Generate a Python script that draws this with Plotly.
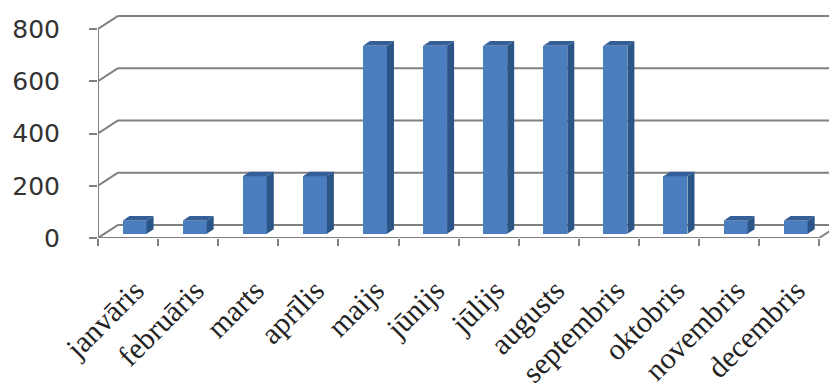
import plotly.graph_objects as go

# Monthly values
months = ["janvāris", "februāris", "marts", "aprīlis", "maijs", "jūnijs",
          "jūlijs", "augusts", "septembris", "oktobris", "novembris", "decembris"]
values = [50, 50, 220, 220, 720, 720, 720, 720, 720, 220, 50, 50]
y_ticks = [0, 200, 400, 600, 800]

# Oblique projection of the depth axis (category units / value units)
DX, DY = 0.333, 50.0
BAR_FRONT, BAR_DEPTH = 0.325, 0.35
BAR_W = 0.4

GRID = "#808080"
FRONT = "#4a7ebf"
SIDE = "#2c5587"
TOP = "#345f98"

n = len(months)
x_lo, x_hi = -0.5, n - 0.5
x_max = 11.663
y_max = 872.7

shapes = []
# back-wall gridlines and side-wall diagonals
for v in y_ticks:
    shapes.append(dict(type="line", xref="x", yref="y", layer="below",
                       x0=x_lo + DX, y0=v + DY, x1=x_max, y1=v + DY,
                       line=dict(color=GRID, width=2)))
    shapes.append(dict(type="line", xref="x", yref="y", layer="below",
                       x0=x_lo, y0=v, x1=x_lo + DX, y1=v + DY,
                       line=dict(color=GRID, width=2)))
# floor front edge, right floor diagonal, front value axis
shapes.append(dict(type="line", xref="x", yref="y", layer="below",
                   x0=x_lo, y0=0, x1=x_hi, y1=0, line=dict(color=GRID, width=2)))
shapes.append(dict(type="line", xref="x", yref="y", layer="below",
                   x0=x_hi, y0=0, x1=x_hi + DX, y1=DY, line=dict(color=GRID, width=2)))
shapes.append(dict(type="line", xref="x", yref="y", layer="below",
                   x0=x_lo, y0=0, x1=x_lo, y1=y_ticks[-1], line=dict(color=GRID, width=2)))

# side and top faces of each column
base = BAR_FRONT * DY
ddx, ddy = BAR_DEPTH * DX, BAR_DEPTH * DY
xc = [i + BAR_FRONT * DX for i in range(n)]
for c, v in zip(xc, values):
    xl, xr = c - BAR_W / 2, c + BAR_W / 2
    top = base + v
    shapes.append(dict(type="path", xref="x", yref="y", layer="above",
                       path=f"M{xr},{base} L{xr},{top} L{xr+ddx},{top+ddy} L{xr+ddx},{base+ddy} Z",
                       fillcolor=SIDE, line=dict(width=0)))
    shapes.append(dict(type="path", xref="x", yref="y", layer="above",
                       path=f"M{xl},{top} L{xr},{top} L{xr+ddx},{top+ddy} L{xl+ddx},{top+ddy} Z",
                       fillcolor=TOP, line=dict(width=0)))

fig = go.Figure()
fig.add_trace(go.Bar(x=xc, y=values, base=[base] * n, width=BAR_W,
                     marker=dict(color=FRONT, line=dict(width=0)),
                     hoverinfo="skip", showlegend=False))
# invisible trace carrying the tick-mark axis
fig.add_trace(go.Scatter(x=[x_lo], y=[0], xaxis="x2", mode="markers",
                         marker=dict(opacity=0), hoverinfo="skip", showlegend=False))

fig.update_layout(
    width=829, height=385,
    margin=dict(l=98, r=0, t=10, b=147, autoexpand=False),
    paper_bgcolor="white", plot_bgcolor="white",
    shapes=shapes,
    bargap=0,
    xaxis=dict(range=[x_lo, x_max], tickvals=list(range(n)), ticktext=months,
               tickangle=-45, ticks="", showgrid=False, zeroline=False, showline=False,
               automargin=False, ticklabelstandoff=28, ticklabelshift=7,
               tickfont=dict(family="Liberation Serif", size=30, color="#222222")),
    xaxis2=dict(range=[x_lo, x_max], overlaying="x", anchor="y", side="bottom",
                tickvals=[i - 0.5 for i in range(n + 1)], ticks="outside", ticklen=7,
                tickwidth=2, tickcolor=GRID, showticklabels=False, showgrid=False,
                zeroline=False, showline=False, automargin=False),
    yaxis=dict(range=[0, y_max], tickvals=y_ticks, ticks="outside", ticklen=8,
               tickwidth=2, tickcolor=GRID, showgrid=False, zeroline=False, showline=False,
               automargin=False, ticklabelstandoff=24,
               tickfont=dict(family="DejaVu Sans", size=25, color="#333333")),
)

fig.write_html("out.html")
